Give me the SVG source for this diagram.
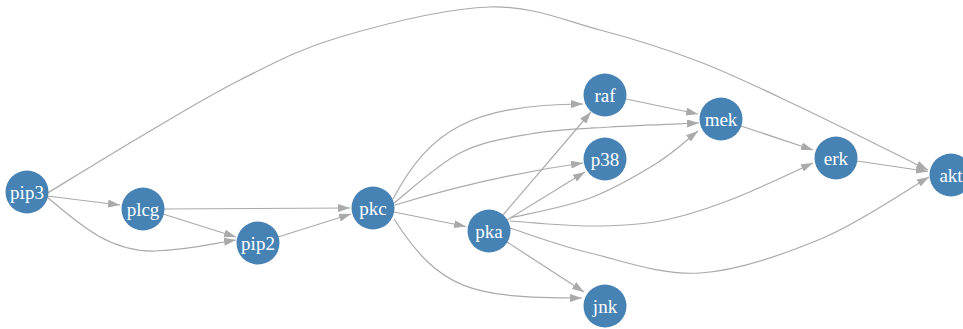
<svg xmlns="http://www.w3.org/2000/svg" width="963" height="329" viewBox="0 0 963 329">
<style>
.edge{fill:none;stroke:#aaaaaa;stroke-width:1.2;marker-end:url(#arr)}
.node circle{fill:#4682b4}
.node text{fill:#ffffff;font-family:"Liberation Serif","Times New Roman",serif;font-size:19px;text-anchor:middle;dominant-baseline:central}
</style>
<defs>
<marker id="arr" markerUnits="userSpaceOnUse" markerWidth="12" markerHeight="8" refX="12" refY="4" orient="auto">
<path d="M0,0 L12,4 L0,8 z" fill="#aaaaaa"/>
</marker>
</defs>
<rect width="963" height="329" fill="#ffffff"/>
<g id="edges">
<path class="edge" d="M46,194 C61.7,184.5 107.7,156 140,137 C172.3,118 206.7,96.7 240,80 C273.3,63.3 298.3,49.2 340,37 C381.7,24.8 446.7,8.2 490,7 C533.3,5.8 565,20.8 600,30 C635,39.2 666.7,49.2 700,62 C733.3,74.8 762,89 800,107 C838,125 906.7,159.5 928,170"/>
<path class="edge" d="M47,196 L120,205"/>
<path class="edge" d="M47,197 C80,225 110,252 155,251 C190,250 215,243 236,240"/>
<path class="edge" d="M163,214 L236,237"/>
<path class="edge" d="M164,209 L350,208"/>
<path class="edge" d="M278,237 L351,214"/>
<path class="edge" d="M393,199 C430,130 470,105 583,104"/>
<path class="edge" d="M394,203 C405,194.7 437.3,164.5 460,153 C482.7,141.5 505,138.3 530,134 C555,129.7 581.8,128.8 610,127 C638.2,125.2 684.2,123.7 699,123"/>
<path class="edge" d="M395,205 Q490,176 583,163"/>
<path class="edge" d="M394,212 L466,226.5"/>
<path class="edge" d="M394,219 C440,290 470,298 582,298"/>
<path class="edge" d="M503,215 L591,112"/>
<path class="edge" d="M507,220 L585,172"/>
<path class="edge" d="M510,218 C523.3,214.7 565.5,207.2 590,198 C614.5,188.8 639,174.2 657,163 C675,151.8 691.2,136.3 698,131"/>
<path class="edge" d="M510,221 C523.3,221.8 565,226 590,226 C615,226 636.7,225.3 660,221 C683.3,216.7 704.5,209.7 730,200 C755.5,190.3 799.2,169.2 813,163"/>
<path class="edge" d="M510,228 C523.3,232.2 558.3,245.5 590,253 C621.7,260.5 661.2,275.5 700,273 C738.8,270.5 784.8,254 823,238 C861.2,222 911.3,187.2 929,177"/>
<path class="edge" d="M507,242 L584,292"/>
<path class="edge" d="M626,99 L698,114"/>
<path class="edge" d="M741,126 L813,150"/>
<path class="edge" d="M857,161 L928,171.5"/>
</g>
<g id="pip3" class="node"><circle cx="27" cy="192" r="21.5"/><text x="27" y="192">pip3</text></g>
<g id="plcg" class="node"><circle cx="143" cy="209" r="21.5"/><text x="143" y="209">plcg</text></g>
<g id="pip2" class="node"><circle cx="258" cy="243" r="21.5"/><text x="258" y="243">pip2</text></g>
<g id="pkc" class="node"><circle cx="373" cy="208" r="21.5"/><text x="373" y="208">pkc</text></g>
<g id="pka" class="node"><circle cx="489" cy="231" r="21.5"/><text x="489" y="231">pka</text></g>
<g id="raf" class="node"><circle cx="605" cy="95" r="21.5"/><text x="605" y="95">raf</text></g>
<g id="p38" class="node"><circle cx="605" cy="159" r="21.5"/><text x="605" y="159">p38</text></g>
<g id="jnk" class="node"><circle cx="605" cy="306" r="21.5"/><text x="605" y="306">jnk</text></g>
<g id="mek" class="node"><circle cx="721" cy="119" r="21.5"/><text x="721" y="119">mek</text></g>
<g id="erk" class="node"><circle cx="836" cy="158" r="21.5"/><text x="836" y="158">erk</text></g>
<g id="akt" class="node"><circle cx="951" cy="175" r="21.5"/><text x="951" y="175">akt</text></g>
</svg>
